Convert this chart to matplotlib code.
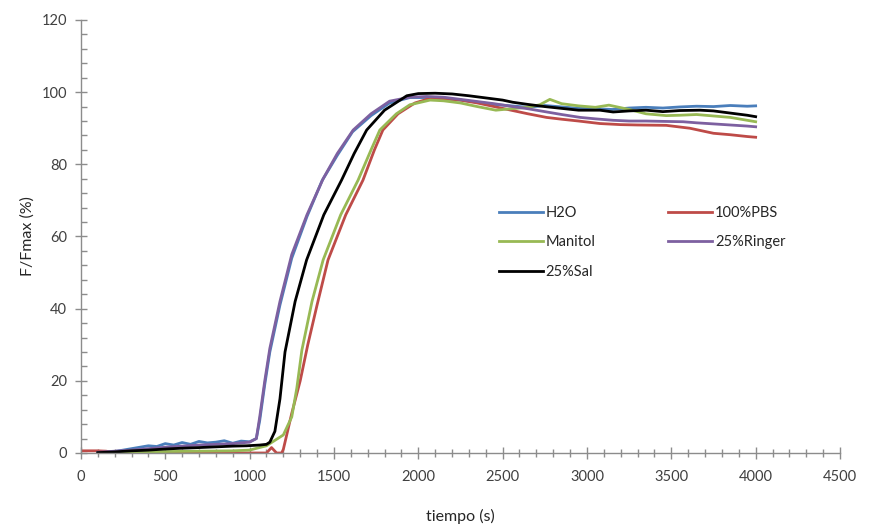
import matplotlib
matplotlib.use('Agg')
import matplotlib.pyplot as plt
from matplotlib.ticker import MultipleLocator

plt.rcParams['font.family'] = ['Lato', 'DejaVu Sans']

# H2O
t_h2o = [100, 200, 250, 300, 350, 400, 450, 500, 550, 600, 650, 700, 750, 800, 850,
	900, 950, 1000, 1040, 1060, 1090, 1120, 1180, 1250, 1340, 1430, 1520, 1610, 1720,
	1830, 1950, 2050, 2150, 2250, 2350, 2450, 2550, 2650, 2750, 2850, 2950, 3050, 3150,
	3250, 3350, 3450, 3550, 3650, 3750, 3850, 3950, 4000]
y_h2o = [0.2, 0.4, 0.8, 1.2, 1.6, 2.0, 1.8, 2.6, 2.2, 2.9, 2.4, 3.2, 2.8, 3.0, 3.4,
	2.7, 3.3, 3.1, 4.0, 9, 19, 28, 41, 54, 65.5, 75.5, 82.5, 89, 93.5,
	97, 98.5, 98.5, 98.2, 97.8, 97.2, 96.6, 96.2, 95.8, 96.3, 95.9, 95.5, 95.4, 95.2,
	95.6, 95.8, 95.6, 95.9, 96.1, 96.0, 96.3, 96.1, 96.2]

# 100%PBS
t_pbs = [0, 100, 150, 200, 1100, 1130, 1160, 1190, 1200, 1250, 1300, 1345, 1400, 1465,
	1570, 1672, 1740, 1790, 1880, 1980, 2050, 2150, 2250, 2350, 2450, 2550, 2650, 2760,
	2850, 2950, 3077, 3200, 3300, 3470, 3610, 3750, 3850, 3950, 4000]
y_pbs = [0.6, 0.6, 0.5, 0.0, 0.0, 1.5, 0.0, 0.0, 1.0, 11, 20, 30, 41, 53.5,
	66, 75.6, 84, 89.5, 94, 97, 98, 98.2, 97.8, 97.0, 96.0, 95.0, 94.0, 93.0,
	92.5, 92.0, 91.3, 91.0, 90.9, 90.8, 90.0, 88.6, 88.2, 87.7, 87.5]

# Manitol
t_man = [100, 300, 500, 700, 900, 1000, 1100, 1200, 1250, 1280, 1310, 1370, 1436, 1540,
	1643, 1720, 1772, 1870, 1950, 2070, 2150, 2250, 2350, 2460, 2550, 2650, 2720, 2780,
	2850, 2950, 3050, 3130, 3250, 3350, 3470, 3550, 3650, 3750, 3850, 3950, 4000]
y_man = [0.1, 0.2, 0.4, 0.5, 0.6, 0.8, 2, 5, 10, 18, 28.5, 42, 53.5, 66,
	75.6, 84, 89.5, 94, 96.5, 97.8, 97.6, 97.0, 96.0, 95.0, 95.4, 95.8, 96.5, 98.0,
	96.8, 96.2, 95.8, 96.4, 95.2, 94.0, 93.5, 93.6, 93.8, 93.4, 93.0, 92.2, 91.8]

# 25%Ringer
t_rin = [100, 300, 500, 700, 900, 1000, 1040, 1060, 1090, 1120, 1180, 1250, 1340, 1436,
	1520, 1614, 1720, 1830, 1950, 2050, 2150, 2250, 2350, 2450, 2560, 2650, 2750, 2850,
	2960, 3050, 3155, 3250, 3350, 3450, 3570, 3650, 3750, 3850, 3950, 4000]
y_rin = [0.2, 0.8, 1.6, 2.2, 2.6, 3.0, 4.0, 10, 20, 29, 42, 55, 66, 76,
	83, 89.5, 94, 97.5, 98.6, 98.8, 98.6, 98.0, 97.4, 96.8, 96.0, 95.4, 94.6, 93.8,
	93.0, 92.6, 92.2, 92.0, 92.0, 91.9, 91.8, 91.5, 91.2, 90.9, 90.6, 90.4]

# 25%Sal
t_sal = [100, 200, 300, 400, 500, 587, 700, 800, 900, 983, 1060, 1100, 1120, 1150, 1180,
	1210, 1270, 1338, 1440, 1545, 1620, 1694, 1800, 1932, 2000, 2100, 2200, 2300, 2400,
	2500, 2560, 2650, 2750, 2850, 2950, 3077, 3155, 3250, 3350, 3450, 3550, 3670, 3750,
	3850, 3950, 4000]
y_sal = [0.1, 0.3, 0.6, 0.8, 1.1, 1.3, 1.5, 1.7, 1.9, 2.0, 2.2, 2.4, 3, 6, 15,
	28, 42, 53.5, 66, 75.6, 83, 89.5, 95, 99, 99.6, 99.7, 99.5, 99.0, 98.4,
	97.8, 97.2, 96.6, 96.0, 95.5, 95.0, 95.0, 94.5, 94.8, 95.0, 94.6, 94.9, 95.0, 94.8,
	94.2, 93.6, 93.2]

fig = plt.figure(figsize=(8.7, 5.3), dpi=100)
ax = fig.add_axes([0.093, 0.1453, 0.8725, 0.817])

lw = 2.0
l_h2o, = ax.plot(t_h2o, y_h2o, color='#4a7ebb', lw=lw, label='H2O')
l_pbs, = ax.plot(t_pbs, y_pbs, color='#be4b48', lw=lw, label='100%PBS')
l_man, = ax.plot(t_man, y_man, color='#98b954', lw=lw, label='Manitol')
l_rin, = ax.plot(t_rin, y_rin, color='#7d60a0', lw=lw, label='25%Ringer')
l_sal, = ax.plot(t_sal, y_sal, color='black', lw=lw, label='25%Sal')

ax.set_xlim(0, 4500)
ax.set_ylim(0, 120)
ax.xaxis.set_major_locator(MultipleLocator(500))
ax.xaxis.set_minor_locator(MultipleLocator(100))
ax.yaxis.set_major_locator(MultipleLocator(20))
ax.yaxis.set_minor_locator(MultipleLocator(4))

for s in ['top', 'right']:
	ax.spines[s].set_visible(False)
for s in ['left', 'bottom']:
	ax.spines[s].set_color('#8c8c8c')
	ax.spines[s].set_linewidth(1.0)

ax.tick_params(axis='both', which='major', direction='inout', length=8, width=1,
	color='#8c8c8c', labelsize=10.5, labelcolor='#404040')
ax.tick_params(axis='y', which='minor', direction='in', length=4, width=1, color='#8c8c8c')
ax.tick_params(axis='x', which='minor', direction='inout', length=6, width=1, color='#8c8c8c')
ax.tick_params(axis='y', which='major', pad=6)
ax.tick_params(axis='x', which='major', pad=8)

ax.set_xlabel('tiempo (s)', fontsize=11.5, color='#262626', labelpad=18)
ax.set_ylabel('F/Fmax (%)', fontsize=11.5, color='#262626', labelpad=5)

ax.legend(handles=[l_h2o, l_man, l_sal, l_pbs, l_rin], ncol=2, frameon=False,
	loc='upper left', bbox_to_anchor=(0.565, 0.625), bbox_transform=fig.transFigure,
	fontsize=10.5, handlelength=3.0, handletextpad=0.2, labelspacing=1.05,
	columnspacing=5.0, borderpad=0, labelcolor='#262626')

fig.savefig('out.png', dpi=100)
